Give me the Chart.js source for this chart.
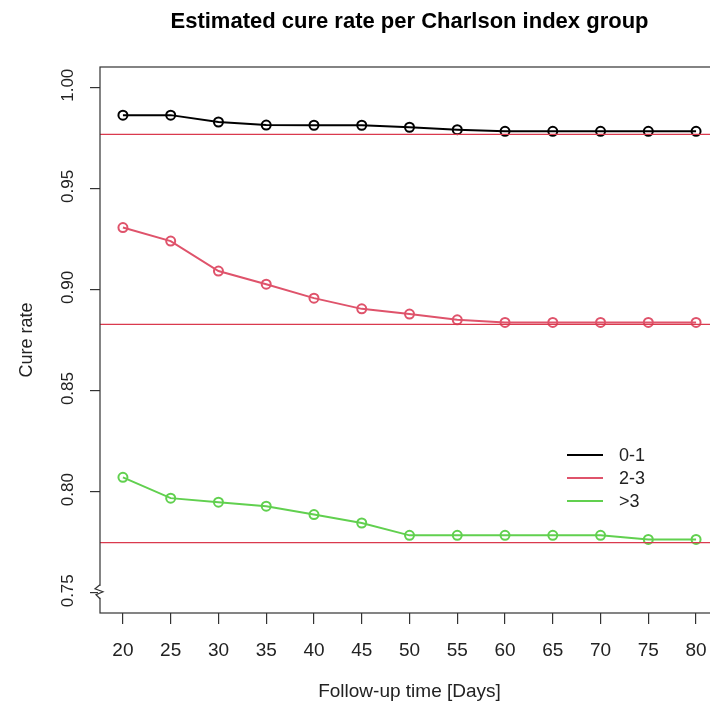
<!DOCTYPE html>
<html>
<head>
<meta charset="utf-8">
<script src="https://cdn.jsdelivr.net/npm/chart.js@4.4.1/dist/chart.umd.min.js"></script>
<style>
  html, body { margin: 0; padding: 0; background: #fff; overflow: hidden; }
  #wrap { width: 710px; height: 710px; overflow: hidden; }
</style>
</head>
<body>
<div id="wrap"><canvas id="chart" width="730" height="710"></canvas></div>
<script>
// follow-up time (days) and the x tick labels
const days = [20, 25, 30, 35, 40, 45, 50, 55, 60, 65, 70, 75, 80];
const yTicks = [0.75, 0.80, 0.85, 0.90, 0.95, 1.00];

// estimated cure rate per Charlson group
const cure01 = [0.9862, 0.9862, 0.9828, 0.9813, 0.9812, 0.9812, 0.9802, 0.9790, 0.9782, 0.9782, 0.9782, 0.9782, 0.9782];
const cure23 = [0.9306, 0.9239, 0.9091, 0.9026, 0.8957, 0.8904, 0.8878, 0.8850, 0.8837, 0.8837, 0.8837, 0.8837, 0.8837];
const cureGt3 = [0.8071, 0.7968, 0.7948, 0.7928, 0.7887, 0.7845, 0.7784, 0.7784, 0.7784, 0.7784, 0.7784, 0.7764, 0.7764];

// horizontal reference levels (cure fraction)
const refLevels = [0.9767, 0.8827, 0.7748];

const groups = ['0-1', '2-3', '>3'];
const colors = ['#000000', '#DF536B', '#61D04F'];
const refColor = '#DA3A4E';

const chartTitle = 'Estimated cure rate per Charlson index group';
const xMin = 17.6, xMax = 82.4, yMin = 0.74, yMax = 1.01;
const yBreakAt = 0.7505;
const fontFam = '"Liberation Sans", Arial, Helvetica, sans-serif';

function toPoints(values) {
    return days.map(function(d, i) { return {x: d, y: values[i]}; });
}

let datasets = [];
[cure01, cure23, cureGt3].forEach(function(values, i) {
    datasets.push({
        label: groups[i],
        data: toPoints(values),
        borderColor: colors[i],
        backgroundColor: 'rgba(0,0,0,0)',
        borderWidth: 2,
        pointRadius: 4.5,
        pointBorderWidth: 2,
        pointBorderColor: colors[i],
        pointBackgroundColor: 'rgba(0,0,0,0)',
        tension: 0,
        order: 1,
        showInLegend: true
    });
});
refLevels.forEach(function(lvl) {
    datasets.push({
        label: 'ref',
        data: [{x: xMin, y: lvl}, {x: xMax, y: lvl}],
        borderColor: refColor,
        borderWidth: 1.3,
        pointRadius: 0,
        order: 0,
        showInLegend: false
    });
});

// box, axis break, title, y tick labels, legend (R base style)
const rStyle = {
    id: 'rStyle',
    afterDraw: function(chart) {
        const ctx = chart.ctx;
        const a = chart.chartArea;
        const ys = chart.scales.y;

        ctx.save();
        ctx.strokeStyle = '#333';
        ctx.lineWidth = 1.2;
        ctx.strokeRect(a.left, a.top, a.right - a.left, a.bottom - a.top);

        // zigzag axis break
        const yb = ys.getPixelForValue(yBreakAt);
        ctx.fillStyle = '#fff';
        ctx.fillRect(a.left - 2, yb - 6, 4, 12);
        ctx.beginPath();
        ctx.moveTo(a.left, yb - 7);
        ctx.lineTo(a.left - 5, yb - 3);
        ctx.lineTo(a.left + 3, yb + 0);
        ctx.lineTo(a.left - 4, yb + 3);
        ctx.lineTo(a.left, yb + 7);
        ctx.stroke();

        // title
        ctx.fillStyle = '#000';
        ctx.font = 'bold 22px ' + fontFam;
        ctx.textAlign = 'center';
        ctx.textBaseline = 'middle';
        ctx.fillText(chartTitle, (a.left + a.right) / 2, 22);

        // rotated y tick labels
        ctx.font = '17px ' + fontFam;
        ctx.fillStyle = '#222';
        yTicks.forEach(function(v) {
            const py = ys.getPixelForValue(v);
            ctx.save();
            ctx.translate(68, py - 2);
            ctx.rotate(-Math.PI / 2);
            ctx.fillText(v.toFixed(2), 0, 0);
            ctx.restore();
        });

        // legend
        ctx.textAlign = 'left';
        ctx.font = '18px ' + fontFam;
        let row = 0;
        chart.data.datasets.forEach(function(ds) {
            if (!ds.showInLegend) return;
            const ly = 455 + row * 23;
            ctx.strokeStyle = ds.borderColor;
            ctx.lineWidth = 2;
            ctx.beginPath();
            ctx.moveTo(567, ly);
            ctx.lineTo(603, ly);
            ctx.stroke();
            ctx.fillStyle = '#222';
            ctx.fillText(ds.label, 619, ly + 1);
            row++;
        });
        ctx.restore();
    }
};

let chart = new Chart(document.getElementById('chart').getContext('2d'), {
    type: 'line',
    data: { datasets: datasets },
    options: {
        responsive: false,
        animation: false,
        devicePixelRatio: 1,
        layout: { padding: { top: 67, right: 11, left: 0, bottom: 0 } },
        plugins: {
            legend: { display: false },
            title: { display: false },
            tooltip: { enabled: false }
        },
        scales: {
            x: {
                type: 'linear',
                min: xMin,
                max: xMax,
                afterBuildTicks: function(scale) {
                    scale.ticks = days.map(function(d) { return {value: d}; });
                },
                afterFit: function(scale) { scale.height = 97; },
                grid: { drawOnChartArea: false, drawTicks: true, tickLength: 11, color: '#333', lineWidth: 1.2 },
                border: { display: false },
                ticks: {
                    color: '#222',
                    font: { family: fontFam, size: 19 },
                    padding: 15,
                    maxRotation: 0,
                    autoSkip: false
                },
                title: {
                    display: true,
                    text: 'Follow-up time [Days]',
                    color: '#222',
                    font: { family: fontFam, size: 19 },
                    padding: { top: 4, bottom: 7 }
                }
            },
            y: {
                type: 'linear',
                min: yMin,
                max: yMax,
                afterBuildTicks: function(scale) {
                    scale.ticks = yTicks.map(function(v) { return {value: v}; });
                },
                afterFit: function(scale) { scale.width = 100; },
                grid: { drawOnChartArea: false, drawTicks: true, tickLength: 10, color: '#333', lineWidth: 1.2 },
                border: { display: false },
                ticks: { display: false },
                title: {
                    display: true,
                    text: 'Cure rate',
                    color: '#222',
                    font: { family: fontFam, size: 18 },
                    padding: { top: 16, bottom: 4 }
                }
            }
        }
    },
    plugins: [rStyle]
});
</script>
</body>
</html>
